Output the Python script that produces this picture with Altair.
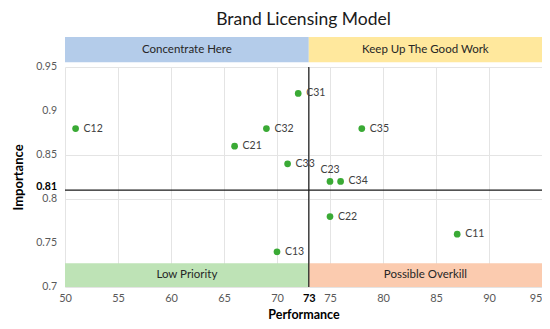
import altair as alt
import pandas as pd

# --- data ---
labels = ["C12", "C32", "C21", "C31", "C35", "C33", "C23", "C34", "C22", "C11", "C13"]
performance = [51, 69, 66, 72, 78, 71, 75, 76, 75, 87, 70]
importance = [0.88, 0.88, 0.86, 0.92, 0.88, 0.84, 0.82, 0.82, 0.78, 0.76, 0.74]

band_names = ["Concentrate Here", "Keep Up The Good Work", "Low Priority", "Possible Overkill"]
band_x1 = [50, 73, 50, 73]
band_x2 = [73, 95, 73, 95]
band_y1 = [0.9555, 0.9555, 0.7, 0.7]
band_y2 = [0.984, 0.984, 0.727, 0.727]
band_colors = ["#B4CCEA", "#FFE89D", "#BEE3B6", "#FBCBAF"]

perf_threshold = 73
imp_threshold = 0.81

x_ticks = [50, 55, 60, 65, 70, 73, 75, 80, 85, 90, 95]
y_ticks = [0.7, 0.75, 0.8, 0.81, 0.85, 0.9, 0.95]

FONT = "Lato"

pts = pd.DataFrame({"label": labels, "perf": performance, "imp": importance})
bands = pd.DataFrame({
    "name": band_names, "x1": band_x1, "x2": band_x2,
    "y1": band_y1, "y2": band_y2, "color": band_colors,
})
bands["xm"] = (bands["x1"] + bands["x2"]) / 2
bands["ym"] = (bands["y1"] + bands["y2"]) / 2
yt = pd.DataFrame({"tick": y_ticks})

xscale = alt.Scale(domain=[50, 95], nice=False, zero=False)
yscale = alt.Scale(domain=[0.7, 0.95], nice=False, zero=False)

xaxis = alt.Axis(
    title="Performance", values=x_ticks, grid=True, gridColor="#E4E4E4",
    domain=False, ticks=False, labelFont=FONT, labelFontSize=11, labelPadding=5,
    labelOverlap=False, labelFlush=False,
    labelAlign={"condition": {"test": "datum.value == 95", "value": "right"}, "value": "center"},
    labelColor={"condition": {"test": f"datum.value == {perf_threshold}", "value": "#000000"}, "value": "#595959"},
    labelFontWeight={"condition": {"test": f"datum.value == {perf_threshold}", "value": "bold"}, "value": "normal"},
    titleFont=FONT, titleFontSize=12.5, titleFontWeight="bold", titleColor="#000000", titlePadding=5,
)
yaxis = alt.Axis(
    title="Importance", values=y_ticks, grid=True, gridColor="#E4E4E4",
    domain=False, ticks=False, labels=False,
    titleFont=FONT, titleFontSize=13, titleFontWeight="bold", titleColor="#000000", titlePadding=40,
)

band_rects = alt.Chart(bands).mark_rect(clip=False).encode(
    x=alt.X("x1:Q", scale=xscale, axis=xaxis),
    x2="x2",
    y=alt.Y("y1:Q", scale=yscale, axis=yaxis),
    y2="y2",
    color=alt.Color("color:N", scale=None),
)
band_text = alt.Chart(bands).mark_text(
    font=FONT, fontSize=11.5, color="#262626", baseline="middle", clip=False
).encode(x=alt.X("xm:Q", axis=xaxis), y=alt.Y("ym:Q", axis=yaxis), text="name:N")

# y tick labels (drawn through the y scale)
ylabels_reg = alt.Chart(yt).transform_filter(f"datum.tick != {imp_threshold}").mark_text(
    align="right", baseline="middle", font=FONT, fontSize=10.5, color="#595959", clip=False
).encode(
    y=alt.Y("tick:Q", axis=yaxis),
    x=alt.value(-8),
    text=alt.Text("tick:Q", format="~g"),
)
ylabels_thr = alt.Chart(yt).transform_filter(f"datum.tick == {imp_threshold}").mark_text(
    align="right", baseline="middle", font=FONT, fontSize=10.5, color="#000000",
    fontWeight="bold", dy=-3, clip=False
).encode(
    y=alt.Y("tick:Q", axis=yaxis),
    x=alt.value(-8),
    text=alt.Text("tick:Q", format="~g"),
)

base_pts = alt.Chart(pts)

points = base_pts.mark_circle(size=45, color="#3AAA35", opacity=1).encode(
    x=alt.X("perf:Q", axis=xaxis),
    y=alt.Y("imp:Q", axis=yaxis),
)

text_right = base_pts.transform_filter("datum.label != 'C23'").mark_text(
    align="left", baseline="middle", dx=8, font=FONT, fontSize=10.5, color="#404040"
).encode(x=alt.X("perf:Q", axis=xaxis), y=alt.Y("imp:Q", axis=yaxis), text="label:N")

text_above = base_pts.transform_filter("datum.label == 'C23'").mark_text(
    align="center", baseline="bottom", dy=-6, font=FONT, fontSize=10.5, color="#404040"
).encode(x=alt.X("perf:Q", axis=xaxis), y=alt.Y("imp:Q", axis=yaxis), text="label:N")

thresholds = pd.DataFrame({"perf": [perf_threshold], "imp": [imp_threshold]})
vrule = alt.Chart(thresholds).mark_rule(color="#1a1a1a", strokeWidth=1.2).encode(
    x=alt.X("perf:Q", axis=xaxis), y=alt.datum(0.7), y2=alt.datum(0.95)
)
hrule = alt.Chart(thresholds).mark_rule(color="#1a1a1a", strokeWidth=1.2).encode(
    y=alt.Y("imp:Q", axis=yaxis), x=alt.datum(50), x2=alt.datum(95)
)

chart = alt.layer(
    band_rects, band_text, vrule, hrule, points, text_right, text_above,
    ylabels_reg, ylabels_thr
).properties(
    width=477, height=220,
    title=alt.TitleParams("Brand Licensing Model", font=FONT, fontSize=17.5, fontWeight="normal",
                          color="#1a1a1a", anchor="middle", frame="group", offset=9),
    autosize=alt.AutoSizeParams(type="none"),
    padding={"left": 57, "top": 59, "right": 0, "bottom": 34},
).configure_view(stroke=None).configure_axis(labelOverlap=False, labelFlush=False)

chart.save("out.html", embed_options={"renderer": "svg", "actions": False})
